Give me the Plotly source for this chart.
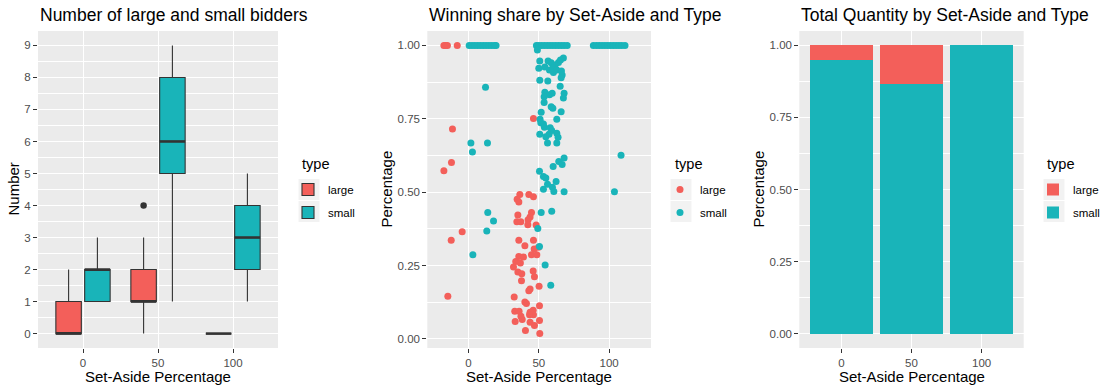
import plotly.graph_objects as go

RED = "#F35F5A"
TEAL = "#19B4B9"
PANEL = "#EBEBEB"
KEYBG = "#F2F2F2"
FONT = "Liberation Sans"

# set-aside levels
set_aside = [0, 50, 100]

# number of bidders per auction (box stats)
large_q1 = [0, 1, 0]
large_med = [0, 1, 0]
large_q3 = [1, 2, 0]
large_lo = [0, 0, 0]
large_hi = [2, 3, 0]
large_out_x = [50]
large_out_y = [4]

small_q1 = [1, 5, 2]
small_med = [2, 6, 3]
small_q3 = [2, 8, 4]
small_lo = [1, 1, 1]
small_hi = [3, 9, 5]

# winning share, jittered set-aside
share_large_x = [-17.5, -16.3, -15.0, -8.0, -11.4, -12.1, -17.5, 46.2, -4.5, -12.3, -14.7,
                 36.5, 42.9, 46.2, 34.6, 35.8, 35.1, 44.8, 43.8, 42.4, 34.4, 37.2, 42.2, 48.1,
                 35.8, 46.2, 40.1, 49.8, 46.7, 44.8, 48.6, 35.8, 39.1, 33.6, 36.9, 32.0, 35.1,
                 37.9, 46.0, 46.9, 37.7, 50.2, 43.8, 42.9, 32.5, 40.1, 41.2, 50.5, 32.9, 36.0,
                 43.8, 46.0, 46.2, 43.4, 37.3, 38.2, 50.5, 33.2, 43.8, 46.9, 40.5, 50.7]
share_large_y = [1.0, 1.0, 1.0, 1.0, 0.715, 0.601, 0.573, 0.751, 0.365, 0.336, 0.145,
                 0.492, 0.492, 0.484, 0.476, 0.466, 0.422, 0.431, 0.415, 0.406, 0.399, 0.399, 0.389, 0.388,
                 0.336, 0.336, 0.317, 0.312, 0.306, 0.287, 0.287, 0.281, 0.279, 0.264, 0.259, 0.245, 0.228,
                 0.222, 0.231, 0.212, 0.198, 0.179, 0.170, 0.164, 0.143, 0.126, 0.121, 0.113, 0.094, 0.094,
                 0.091, 0.098, 0.082, 0.082, 0.077, 0.066, 0.063, 0.059, 0.057, 0.046, 0.029, 0.018]

share_small_x = [0.5, 2.5, 4.5, 6.5, 8.5, 10.5, 12.5, 14.5, 16.5, 18.5, 19.6,
                 48.3, 50.0, 52.0, 54.0, 56.0, 58.0, 60.0, 62.0, 64.0, 66.0, 68.0, 70.2,
                 88.8, 91.0, 93.0, 95.0, 97.0, 99.0, 101.0, 103.0, 105.0, 107.0, 109.0, 111.3,
                 49.0, 12.1, 1.7, 13.5, 2.8, 13.7, 17.8, 13.0, 3.1, 108.5, 103.8,
                 50.7, 56.6, 58.8, 61.6, 64.0, 67.5, 65.4, 50.0, 54.3, 57.6, 60.4, 60.0, 62.8,
                 66.1, 66.6, 65.9, 50.7, 56.4, 65.2, 54.3, 57.6, 59.5, 68.0, 53.8, 67.5, 53.8,
                 58.8, 60.0, 51.7, 65.9, 50.9, 62.8, 51.4, 53.3, 54.0, 58.1, 59.2, 50.7, 57.3,
                 62.8, 55.0, 63.7, 56.2, 62.8, 68.0, 64.2, 66.6, 60.2, 50.5, 53.3, 55.0, 62.3,
                 56.2, 59.7, 53.3, 60.7, 68.0, 51.7, 59.2, 49.3, 50.5, 54.5, 58.5]
share_small_y = [1.0] * 35 + [
                 0.984, 0.857, 0.667, 0.667, 0.637, 0.431, 0.402, 0.368, 0.287, 0.626, 0.501,
                 0.947, 0.947, 0.941, 0.933, 0.942, 0.957, 0.950, 0.922, 0.926, 0.916, 0.908, 0.922, 0.916,
                 0.913, 0.899, 0.890, 0.881, 0.879, 0.861, 0.840, 0.832, 0.837, 0.837, 0.825, 0.821, 0.805,
                 0.791, 0.786, 0.772, 0.774, 0.748, 0.748, 0.736, 0.732, 0.721, 0.719, 0.710, 0.697, 0.697,
                 0.701, 0.689, 0.687, 0.667, 0.667, 0.616, 0.604, 0.594, 0.587, 0.571, 0.553, 0.548, 0.536,
                 0.527, 0.517, 0.510, 0.502, 0.501, 0.431, 0.435, 0.376, 0.315, 0.252, 0.183]

# total quantity share
qty_large = [0.051, 0.133, 0.0]
qty_small = [0.949, 0.867, 1.0]

# dodge geometry for the boxes (ggplot-like)
BOXGAP = 0.232
GROUPGAP = 0.115
slot = 50 * (1 - BOXGAP) / 2
box_w = slot * (1 - GROUPGAP)
off = slot / 2

fig = go.Figure()

fig.add_trace(go.Box(x=set_aside, q1=large_q1, median=large_med, q3=large_q3,
                     lowerfence=large_lo, upperfence=large_hi, name="large",
                     fillcolor=RED, line=dict(color="#333333", width=1.1),
                     whiskerwidth=0, legend="legend", legendgroup="l",
                     xaxis="x", yaxis="y", hoverinfo="skip"))
fig.add_trace(go.Box(x=set_aside, q1=small_q1, median=small_med, q3=small_q3,
                     lowerfence=small_lo, upperfence=small_hi, name="small",
                     fillcolor=TEAL, line=dict(color="#333333", width=1.1),
                     whiskerwidth=0, legend="legend", legendgroup="s",
                     xaxis="x", yaxis="y", hoverinfo="skip"))

# thicker median bars
for meds, sign in ((large_med, -1), (small_med, 1)):
    mx, my = [], []
    for s, m in zip(set_aside, meds):
        c = s + sign * off
        mx += [c - box_w / 2, c + box_w / 2, None]
        my += [m, m, None]
    fig.add_trace(go.Scatter(x=mx, y=my, mode="lines", line=dict(color="#333333", width=2.6),
                             showlegend=False, xaxis="x", yaxis="y", hoverinfo="skip"))

fig.add_trace(go.Scatter(x=[v - off for v in large_out_x], y=large_out_y, mode="markers",
                         marker=dict(color="#333333", size=6.5), showlegend=False,
                         xaxis="x", yaxis="y"))

fig.add_trace(go.Scatter(x=share_large_x, y=share_large_y, mode="markers", name="large",
                         marker=dict(color=RED, size=7), legend="legend2", legendgroup="l",
                         xaxis="x2", yaxis="y2"))
fig.add_trace(go.Scatter(x=share_small_x, y=share_small_y, mode="markers", name="small",
                         marker=dict(color=TEAL, size=7), legend="legend2", legendgroup="s",
                         xaxis="x2", yaxis="y2"))

fig.add_trace(go.Bar(x=set_aside, y=qty_small, width=45, name="small", marker_color=TEAL,
                     marker_line_width=0, legend="legend3", legendgroup="s", legendrank=2,
                     xaxis="x3", yaxis="y3"))
fig.add_trace(go.Bar(x=set_aside, y=qty_large, width=45, name="large", marker_color=RED,
                     marker_line_width=0, legend="legend3", legendgroup="l", legendrank=1,
                     xaxis="x3", yaxis="y3"))

W, H = 1118, 391


def px(x):
    return x / W


def py(y):
    return 1 - y / H


top = py(31)
bot = py(348)


def xax(x0, x1, rng, anchor):
    return dict(domain=[px(x0), px(x1)], range=rng, tickvals=set_aside, anchor=anchor,
                showgrid=True, gridcolor="white", gridwidth=1.1, zeroline=False,
                ticks="outside", ticklen=4, tickcolor="#333333", tickwidth=1,
                tickfont=dict(size=11.5, color="#4D4D4D"),
                showline=False, fixedrange=True, automargin=False)


def yax(rng, dtick, minor, fmt, anchor):
    return dict(domain=[bot, top], range=rng, dtick=dtick, tick0=0, tickformat=fmt,
                showgrid=True, gridcolor="white", gridwidth=1.1, zeroline=False,
                minor=dict(dtick=minor, tick0=0, showgrid=True, gridcolor="white", gridwidth=0.5),
                ticks="outside", ticklen=4, tickcolor="#333333", tickwidth=1,
                tickfont=dict(size=11.5, color="#4D4D4D"),
                anchor=anchor, fixedrange=True, automargin=False)


def legend_at(x, y):
    return dict(x=px(x), y=py(y), xanchor="left", yanchor="top",
                font=dict(size=11.5, color="black"), bgcolor="rgba(0,0,0,0)",
                itemwidth=30, traceorder="grouped", tracegroupgap=4)


fig.update_layout(
    width=W, height=H,
    margin=dict(l=0, r=0, t=0, b=0),
    paper_bgcolor="white", plot_bgcolor=PANEL,
    font=dict(family=FONT, color="black"),
    boxmode="group", boxgap=BOXGAP, boxgroupgap=GROUPGAP,
    barmode="stack",
    xaxis=xax(38, 278, [-30, 130], "y"),
    yaxis=yax([-0.45, 9.45], 1, 0.5, "d", "x"),
    xaxis2=xax(427.3, 651, [-29.3, 129.8], "y2"),
    yaxis2=yax([-0.031, 1.049], 0.25, 0.125, ".2f", "x2"),
    xaxis3=xax(799.3, 1023.7, [-30, 130], "y3"),
    yaxis3=yax([-0.05, 1.05], 0.25, 0.125, ".2f", "x3"),
    legend=legend_at(288, 175),
    legend2=legend_at(660, 175),
    legend3=legend_at(1033, 175),
    showlegend=True,
)

# grey legend key backgrounds
for kx in (298.5, 670.5, 1043.5):
    for ky in (179, 201):
        fig.add_shape(type="rect", xref="paper", yref="paper",
                      x0=px(kx), x1=px(kx + 21), y0=py(ky + 21), y1=py(ky),
                      fillcolor=KEYBG, line_width=0, layer="below")


def note(text, x, y, size, **kw):
    fig.add_annotation(text=text, x=px(x), y=py(y), xref="paper", yref="paper",
                       showarrow=False, font=dict(size=size, color="black"), **kw)


# panel titles
for text, x0 in [("Number of large and small bidders", 38),
                 ("Winning share by Set-Aside and Type", 427.3),
                 ("Total Quantity by Set-Aside and Type", 799.3)]:
    note(text, x0, 15, 17.5, xanchor="left", yanchor="middle")

# axis titles
for cx in (158, 539, 911.5):
    note("Set-Aside Percentage", cx, 376, 15, xanchor="center", yanchor="middle")
for text, cx in [("Number", 13), ("Percentage", 386), ("Percentage", 758)]:
    note(text, cx, 189.5, 15, xanchor="center", yanchor="middle", textangle=-90)

# legend titles
for lx in (300, 672.7, 1045):
    note("type", lx, 164, 14.6, xanchor="left", yanchor="middle")

# drop the default 8px body margin so the figure sits at the window corner
fig.write_html("out.html", config={"displayModeBar": False},
               post_script="document.body.style.margin = '0px';")
